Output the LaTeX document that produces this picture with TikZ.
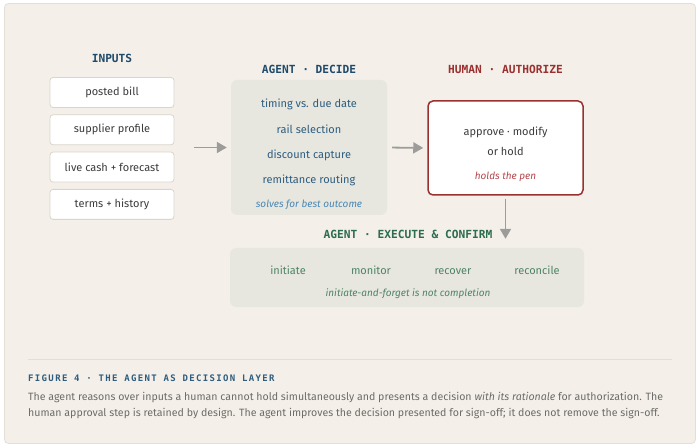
\documentclass[tikz,border=0pt]{standalone}
\usepackage{fontspec}
\setmainfont{Fira Sans}
\newfontfamily\headfont{DejaVu Sans Mono}
\newfontfamily\capheadfont[LetterSpace=15]{DejaVu Sans Mono}
\newfontfamily\capfont{Fira Sans}
\usepackage{tikz}
\usetikzlibrary{positioning,arrows.meta}
\definecolor{paper}{HTML}{F4F0E9}
\definecolor{frameline}{HTML}{E3DFD7}
\definecolor{panelfill}{HTML}{E7E7E0}
\definecolor{inborder}{HTML}{D9D5CC}
\definecolor{intext}{HTML}{3C3C3C}
\definecolor{headblue}{HTML}{1F4A6B}
\definecolor{decblue}{HTML}{2E5D7F}
\definecolor{noteblue}{HTML}{4A87B3}
\definecolor{humred}{HTML}{9B3030}
\definecolor{notered}{HTML}{B5484C}
\definecolor{headgreen}{HTML}{2D6C4C}
\definecolor{exgreen}{HTML}{4F8466}
\definecolor{arrgray}{HTML}{9C9C9A}
\definecolor{captext}{HTML}{6B6B69}
\tikzstyle{frame}=[draw=frameline, fill=paper, rounded corners=4pt, line width=0.8pt]
\tikzstyle{head}=[font=\headfont\bfseries\fontsize{11.2}{13}\selectfont]
\tikzstyle{inp}=[draw=inborder, fill=white, rounded corners=3pt, minimum height=30pt, minimum width=124pt, text=intext, font=\fontsize{11}{13}\selectfont, line width=0.8pt]
\tikzstyle{panel}=[fill=panelfill, rounded corners=6pt]
\tikzstyle{dec}=[text=decblue, font=\fontsize{11}{13}\selectfont, text height=7.5pt, text depth=2.5pt, inner sep=0pt]
\tikzstyle{exe}=[text=exgreen, font=\fontsize{11}{13}\selectfont, text height=7.5pt, text depth=2.5pt, inner sep=0pt]
\tikzstyle{note}=[font=\itshape\fontsize{10}{12}\selectfont, text height=7pt, text depth=2.5pt, inner sep=0pt]
\tikzstyle{human}=[draw=humred, fill=white, rounded corners=5pt, line width=1.5pt, minimum width=155pt, minimum height=94pt]
\tikzstyle{arr}=[->, draw=arrgray, line width=1.8pt]
\tikzstyle{captxt}=[anchor=base west, inner sep=0pt, text=captext, font=\capfont\fontsize{10.6}{16}\selectfont]

\begin{document}
\begin{tikzpicture}[node distance=37.3pt,auto,>={Triangle[length=10pt,width=11pt]},x=1pt,y=1pt]
\useasboundingbox (0,0) rectangle (700,447);
\draw[frame] (4.5,3.5) rectangle (695.5,443.5);

% inputs
\node[head, text=headblue] (inhead) at (112,389) {INPUTS};
\node[inp] (in1) at (112,354.5) {posted bill};
\node[inp, below of = in1] (in2) {supplier profile};
\node[inp, below of = in2] (in3) {live cash + forecast};
\node[inp, below of = in3] (in4) {terms + history};

% agent decides
\node[panel, minimum width=156pt, minimum height=135pt] (decpanel) at (309,299.5) {};
\node[head, text=headblue] (dechead) at (309,378) {AGENT · DECIDE};
\node[dec] (dec1) at (309,341.5) {timing vs. due date};
\node[dec, below of = dec1, node distance = 25.3pt] (dec2) {rail selection};
\node[dec, below of = dec2, node distance = 25.3pt] (dec3) {discount capture};
\node[dec, below of = dec3, node distance = 25.3pt] (dec4) {remittance routing};
\node[note, text=noteblue, below of = dec4, node distance = 24pt] (decnote) {solves for best outcome};
\draw[arr, shorten <=20pt, shorten >=4pt] (in2.east |- decpanel.west) -- (decpanel.west);

% human authorizes
\node[human] (hum) at (505.5,299) {};
\node[head, text=humred] (humhead) at (505.5,378) {HUMAN · AUTHORIZE};
\node[dec, text=intext] (hum1) at (505.5,314) {approve · modify};
\node[dec, text=intext, below of = hum1, node distance = 20.5pt] (hum2) {or hold};
\node[note, text=notered, below of = hum2, node distance = 24pt] (humnote) {holds the pen};
\draw[arr, shorten <=5pt, shorten >=4pt] (decpanel.east) -- (hum.west);

% execute and confirm
\node[panel, minimum width=354pt, minimum height=59pt] (expanel) at (407,169.5) {};
\node[head, text=headgreen] (exhead) at (408,213) {AGENT · EXECUTE \& CONFIRM};
\node[exe] (ex1) at (288,174.5) {initiate};
\node[exe, right of = ex1, node distance = 83pt] (ex2) {monitor};
\node[exe, right of = ex2, node distance = 82pt] (ex3) {recover};
\node[exe, right of = ex3, node distance = 84pt] (ex4) {reconcile};
\node[note, text=exgreen] (exnote) at (408,153) {initiate-and-forget is not completion};
\draw[arr, shorten <=3pt, shorten >=9pt] (hum.south) -- (hum.south |- expanel.north);

% caption
\draw[frameline, line width=0.8pt] (28,88) -- (672,88);
\node[anchor=west, inner sep=0pt, text=decblue, font=\capheadfont\bfseries\fontsize{9}{10}\selectfont] (caphead) at (28,69) {FIGURE 4 · THE AGENT AS DECISION LAYER};
\node[captxt] (cap1) at (28,46.5) {The agent reasons over inputs a human cannot hold simultaneously and presents a decision \textit{with its rationale} for authorization. The};
\node[captxt] (cap2) at ([yshift=-16pt]cap1.base west) {human approval step is retained by design. The agent improves the decision presented for sign-off; it does not remove the sign-off.};
\end{tikzpicture}
\end{document}
